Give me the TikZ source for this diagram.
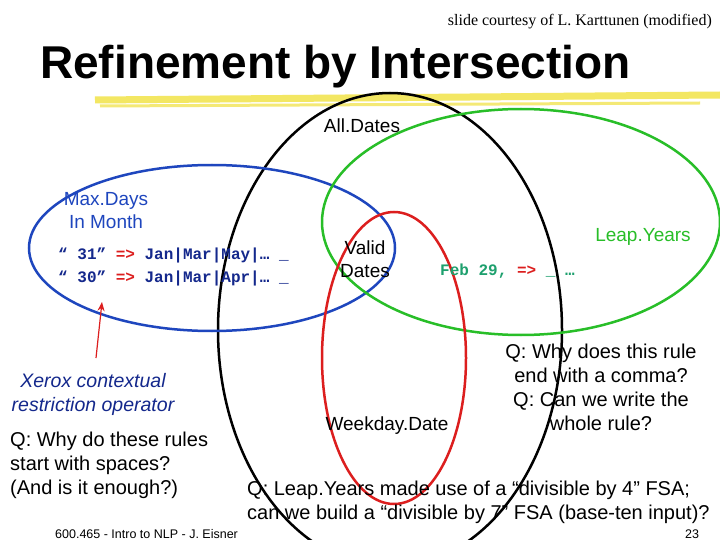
\documentclass[tikz,border=0pt]{standalone}
\usepackage{fontspec}
\setmainfont{Liberation Sans}
\setmonofont{Liberation Mono}
\newfontfamily\serifx{Liberation Serif}
\usetikzlibrary{arrows.meta}
\definecolor{myblue}{RGB}{30,70,190}
\definecolor{navy}{RGB}{20,40,140}
\definecolor{mygreen}{RGB}{40,190,40}
\definecolor{teal2}{RGB}{30,160,110}
\definecolor{myred}{RGB}{220,30,30}
\definecolor{hl}{RGB}{240,225,60}
\begin{document}
\begin{tikzpicture}[x=1pt,y=-1pt,
  lab/.style={font=\fontsize{19}{23}\selectfont,align=center,inner sep=0},
  code/.style={font=\ttfamily\bfseries\fontsize{16}{23}\selectfont,text=navy,anchor=west,inner sep=0,align=left},
  qtext/.style={font=\fontsize{20}{24}\selectfont,anchor=west,inner sep=0,align=left}]
\useasboundingbox (0,0) rectangle (720,540);
\fill[white] (0,0) rectangle (720,540);
% highlighter
\draw[hl,line width=7pt,opacity=0.8] (95,100) -- (720,95);
\draw[hl,line width=3pt,opacity=0.7] (100,106) -- (700,103);
\node[font=\serifx\fontsize{16}{18}\selectfont,anchor=east,inner sep=0] (credit) at (712,22) {slide courtesy of L. Karttunen (modified)};
\node[font=\bfseries\fontsize{46}{48}\selectfont,anchor=west,inner sep=0] (title) at (40,67) {Refinement by Intersection};
% ellipses
\draw[black,line width=2.5pt] (390,330) ellipse [x radius=172,y radius=237];
\draw[myblue,line width=2.5pt] (212,248) ellipse [x radius=183,y radius=83];
\draw[mygreen,line width=2.5pt] (521,222) ellipse [x radius=199,y radius=113];
\draw[myred,line width=2.5pt] (394,358) ellipse [x radius=72,y radius=146];
% labels
\node[lab] (all) at (362,126) {All.Dates};
\node[lab,text=myblue] (max) at (106,211) {Max.Days\\In Month};
\node[lab] (valid) at (365,259) {Valid\\Dates};
\node[lab,text=mygreen] (leap) at (643,237) {Leap.Years};
\node[lab] (week) at (387,426) {Weekday.Date};
\node[code] (c1) at (58,267) {“ 31” \textcolor{myred}{=>} Jan|Mar|May|… \_\\“ 30” \textcolor{myred}{=>} Jan|Mar|Apr|… \_};
\node[code,text=teal2] (feb) at (440,271) {Feb 29, \textcolor{myred}{=>} \_ …};
\node[font=\itshape\fontsize{19.5}{24}\selectfont,text=navy,align=center,inner sep=0] (xerox) at (93,394) {Xerox contextual\\restriction operator};
\coordinate (atip) at (102,302);
\draw[myred,line width=1.2pt,-{Stealth[length=9pt,width=7pt]}] (96,358) -- (atip);
\node[qtext] (q1) at (10,465) {Q: Why do these rules\\start with spaces?\\(And is it enough?)};
\node[qtext,align=center,anchor=center] (q2) at (601,387) {Q: Why does this rule\\end with a comma?\\Q: Can we write the\\whole rule?};
\node[qtext] (q3) at (247,502) {Q: Leap.Years made use of a “divisible by 4” FSA;\\can we build a “divisible by 7” FSA (base-ten input)?};
\node[font=\fontsize{12.5}{14}\selectfont,anchor=west,inner sep=0] (foot) at (55,534) {600.465 - Intro to NLP - J. Eisner};
\node[font=\fontsize{12.5}{14}\selectfont,inner sep=0] (pg) at (692,534) {23};
\end{tikzpicture}
\end{document}
